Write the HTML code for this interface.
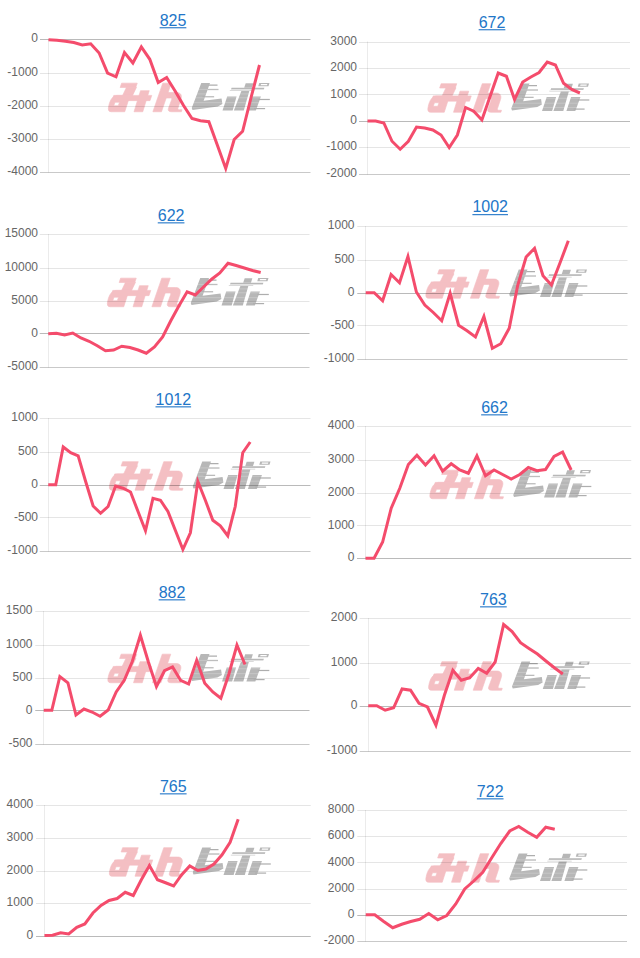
<!DOCTYPE html>
<html lang="ja">
<head>
<meta charset="utf-8">
<title>charts</title>
<style>
html,body{margin:0;padding:0;background:#fff;}
body{width:640px;height:958px;overflow:hidden;font-family:"Liberation Sans",sans-serif;}
svg{display:block;}
.t{font-family:"Liberation Sans",sans-serif;font-size:16px;fill:#2276c8;text-anchor:middle;}
.l{font-family:"Liberation Sans",sans-serif;font-size:12px;fill:#666;text-anchor:end;}
.d{fill:none;stroke:#f44c6c;stroke-width:3.0;stroke-linejoin:miter;stroke-linecap:butt;}
.g{stroke:rgba(0,0,0,0.10);stroke-width:1;}
.v{stroke:rgba(0,0,0,0.08);stroke-width:1;}
.z{stroke:rgba(0,0,0,0.27);stroke-width:1;}
.b{stroke:rgba(0,0,0,0.21);stroke-width:1;}
</style>
</head>
<body>
<svg width="640" height="958" viewBox="0 0 640 958">
<defs>
<symbol id="wm" width="164" height="30" viewBox="0 0 164 30" overflow="visible">
<g fill="#f4bfc3" stroke="#f4bfc3" stroke-width="5" stroke-linejoin="round" transform="translate(-3.5,-4.5) scale(0.125)">
<path d="M133,33 L258,33 L246,68 L121,68 Z"/>
<path d="M172,66 L252,66 L218,137 L138,137 Z"/>
<path d="M70,131 L374,131 L360,173 L56,173 Z"/>
<path fill-rule="evenodd" d="M95,131 L200,131 L158,262 L50,262 C28,262 22,245 30,215 C40,168 60,136 95,131 Z M80,186 L116,186 L106,214 L70,214 Z"/>
<path d="M284,93 L354,93 L302,262 L232,262 Z"/>
<path d="M462,33 L530,33 L452,262 L383,262 Z"/>
<path d="M500,108 L572,108 C604,108 618,128 608,160 L584,232 C581,241 585,246 596,246 L616,246 L611,262 L530,262 C508,262 502,250 508,233 L533,166 C536,157 533,152 525,152 L480,152 Z"/>
</g>
<g fill="#b7b7b7" transform="translate(84,-3) scale(0.0625)">
<path d="M140,38 L280,38 L178,322 L465,288 L478,375 L405,415 L0,472 L-12,440 Z"/>
<rect x="262" y="64" width="138" height="20" fill="#aeaeae"/>
<rect x="238" y="134" width="178" height="20" fill="#aeaeae"/>
<rect x="160" y="252" width="186" height="18" fill="#aeaeae"/>
</g>
<g fill="#b7b7b7" transform="translate(114,-3) scale(0.0813)">
<path d="M285,35 L380,35 L362,88 L267,88 Z"/>
<path d="M112,88 L515,88 L508,112 L105,112 Z"/>
<rect x="90" y="120" width="300" height="9" opacity="0.7"/>
<path fill-rule="evenodd" d="M452,30 L578,30 L566,72 L440,72 Z M474,43 L552,43 L547,59 L469,59 Z"/>
<path d="M232,128 L330,128 L262,370 L140,370 Z"/>
<path d="M58,196 L173,196 L125,370 L0,370 Z"/>
<path d="M358,196 L473,196 L410,370 L300,370 Z"/>
<rect x="440" y="226" width="142" height="15" fill="#aeaeae"/>
<rect x="390" y="338" width="134" height="15" fill="#aeaeae"/>
</g>
<g stroke="#fff" stroke-width="0.5" opacity="0.45">
<line x1="84" y1="5.9" x2="163" y2="5.9"/>
<line x1="84" y1="10.4" x2="163" y2="10.4"/>
<line x1="84" y1="14.3" x2="163" y2="14.3"/>
<line x1="84" y1="19.2" x2="163" y2="19.2"/>
<line x1="84" y1="23.6" x2="163" y2="23.6"/>
</g>
</symbol>

</defs>

<g>
<a href="#c825"><text class="t" x="173.00" y="25.50">825</text></a>
<rect x="159.65" y="27.20" width="26.70" height="1.1" fill="#2276c8"/>
<use href="#wm" x="108.50" y="83.50"/>
<line class="v" x1="48.50" y1="39.00" x2="48.50" y2="172.50"/>
<line class="z" x1="40.00" y1="39.50" x2="310.50" y2="39.50"/>
<text class="l" x="38.00" y="42.25">0</text>
<line class="g" x1="40.00" y1="73.50" x2="310.50" y2="73.50"/>
<text class="l" x="38.00" y="75.75">-1000</text>
<line class="g" x1="40.00" y1="106.50" x2="310.50" y2="106.50"/>
<text class="l" x="38.00" y="109.00">-2000</text>
<line class="g" x1="40.00" y1="139.50" x2="310.50" y2="139.50"/>
<text class="l" x="38.00" y="141.75">-3000</text>
<line class="b" x1="40.00" y1="172.50" x2="310.50" y2="172.50"/>
<text class="l" x="38.00" y="174.75">-4000</text>
<polyline class="d" points="48.50,39.80 56.94,40.30 65.38,41.20 73.82,42.50 82.26,45.00 90.70,43.80 99.14,53.00 107.58,73.00 116.02,76.80 124.46,52.50 132.90,63.00 141.34,47.00 149.78,59.30 158.22,82.50 166.66,77.50 175.10,91.00 183.54,105.50 191.98,118.50 200.42,120.75 208.86,121.75 217.30,145.00 225.74,168.50 234.18,139.50 242.62,131.25 251.06,97.50 259.50,65.00"/>
</g>
<g>
<a href="#c672"><text class="t" x="492.00" y="27.50">672</text></a>
<rect x="478.65" y="29.20" width="26.70" height="1.1" fill="#2276c8"/>
<use href="#wm" x="428.00" y="84.00"/>
<line class="v" x1="367.50" y1="41.50" x2="367.50" y2="174.50"/>
<line class="g" x1="359.00" y1="42.50" x2="630.00" y2="42.50"/>
<text class="l" x="357.00" y="44.75">3000</text>
<line class="g" x1="359.00" y1="68.50" x2="630.00" y2="68.50"/>
<text class="l" x="357.00" y="71.00">2000</text>
<line class="g" x1="359.00" y1="94.50" x2="630.00" y2="94.50"/>
<text class="l" x="357.00" y="97.50">1000</text>
<line class="z" x1="359.00" y1="121.50" x2="630.00" y2="121.50"/>
<text class="l" x="357.00" y="123.75">0</text>
<line class="g" x1="359.00" y1="147.50" x2="630.00" y2="147.50"/>
<text class="l" x="357.00" y="150.25">-1000</text>
<line class="b" x1="359.00" y1="174.50" x2="630.00" y2="174.50"/>
<text class="l" x="357.00" y="176.75">-2000</text>
<polyline class="d" points="367.50,121.00 375.67,121.00 383.84,123.00 392.01,141.25 400.18,149.25 408.35,141.25 416.52,127.00 424.69,128.00 432.86,130.00 441.03,135.00 449.20,147.50 457.37,135.00 465.54,107.50 473.71,111.25 481.88,120.00 490.05,96.50 498.22,73.00 506.39,76.25 514.56,99.50 522.73,82.00 530.90,77.00 539.07,72.50 547.24,62.00 555.41,65.00 563.58,83.25 571.75,89.50 579.92,93.00"/>
</g>
<g>
<a href="#c622"><text class="t" x="171.10" y="220.60">622</text></a>
<rect x="157.75" y="222.30" width="26.70" height="1.1" fill="#2276c8"/>
<use href="#wm" x="107.50" y="278.50"/>
<line class="v" x1="48.50" y1="234.00" x2="48.50" y2="367.50"/>
<line class="g" x1="39.75" y1="234.50" x2="309.50" y2="234.50"/>
<text class="l" x="38.00" y="237.25">15000</text>
<line class="g" x1="39.75" y1="268.50" x2="309.50" y2="268.50"/>
<text class="l" x="38.00" y="270.75">10000</text>
<line class="g" x1="39.75" y1="301.50" x2="309.50" y2="301.50"/>
<text class="l" x="38.00" y="304.00">5000</text>
<line class="z" x1="39.75" y1="333.50" x2="309.50" y2="333.50"/>
<text class="l" x="38.00" y="336.50">0</text>
<line class="b" x1="39.75" y1="367.50" x2="309.50" y2="367.50"/>
<text class="l" x="38.00" y="369.75">-5000</text>
<polyline class="d" points="48.25,333.75 56.42,333.25 64.59,335.00 72.76,333.00 80.93,338.00 89.10,341.25 97.27,345.75 105.44,350.75 113.61,350.00 121.78,346.25 129.95,347.50 138.12,350.00 146.29,353.25 154.46,347.00 162.63,337.00 170.80,320.75 178.97,305.75 187.14,291.75 195.31,295.00 203.48,287.00 211.65,279.25 219.82,273.00 227.99,263.25 236.16,265.50 244.33,268.00 252.50,270.50 260.67,272.50"/>
</g>
<g>
<a href="#c1002"><text class="t" x="490.20" y="212.40">1002</text></a>
<rect x="472.40" y="214.10" width="35.60" height="1.1" fill="#2276c8"/>
<use href="#wm" x="426.00" y="270.00"/>
<line class="v" x1="365.50" y1="226.00" x2="365.50" y2="359.50"/>
<line class="g" x1="357.25" y1="226.50" x2="627.50" y2="226.50"/>
<text class="l" x="354.50" y="229.25">1000</text>
<line class="g" x1="357.25" y1="260.50" x2="627.50" y2="260.50"/>
<text class="l" x="354.50" y="262.75">500</text>
<line class="z" x1="357.25" y1="293.50" x2="627.50" y2="293.50"/>
<text class="l" x="354.50" y="296.00">0</text>
<line class="g" x1="357.25" y1="325.50" x2="627.50" y2="325.50"/>
<text class="l" x="354.50" y="328.50">-500</text>
<line class="b" x1="357.25" y1="359.50" x2="627.50" y2="359.50"/>
<text class="l" x="354.50" y="361.75">-1000</text>
<polyline class="d" points="365.75,292.75 374.19,292.75 382.63,300.75 391.07,274.50 399.51,282.75 407.95,256.50 416.39,292.00 424.83,305.00 433.27,312.50 441.71,320.75 450.15,293.25 458.59,325.25 467.03,330.75 475.47,337.00 483.91,316.50 492.35,348.25 500.79,343.75 509.23,328.25 517.67,285.50 526.11,257.00 534.55,248.25 542.99,275.75 551.43,285.00 559.87,263.25 568.31,240.75"/>
</g>
<g>
<a href="#c1012"><text class="t" x="173.30" y="404.60">1012</text></a>
<rect x="155.50" y="406.30" width="35.60" height="1.1" fill="#2276c8"/>
<use href="#wm" x="109.50" y="462.00"/>
<line class="v" x1="48.50" y1="418.00" x2="48.50" y2="551.50"/>
<line class="g" x1="39.75" y1="418.50" x2="310.50" y2="418.50"/>
<text class="l" x="38.00" y="421.25">1000</text>
<line class="g" x1="39.75" y1="452.50" x2="310.50" y2="452.50"/>
<text class="l" x="38.00" y="454.75">500</text>
<line class="z" x1="39.75" y1="485.50" x2="310.50" y2="485.50"/>
<text class="l" x="38.00" y="488.00">0</text>
<line class="g" x1="39.75" y1="517.50" x2="310.50" y2="517.50"/>
<text class="l" x="38.00" y="520.50">-500</text>
<line class="b" x1="39.75" y1="551.50" x2="310.50" y2="551.50"/>
<text class="l" x="38.00" y="553.75">-1000</text>
<polyline class="d" points="48.25,484.75 55.73,484.75 63.21,447.00 70.69,452.75 78.17,455.75 85.65,481.50 93.13,506.00 100.61,513.25 108.09,506.50 115.57,486.00 123.05,488.25 130.53,492.00 138.01,511.50 145.49,530.75 152.97,498.25 160.45,500.25 167.93,511.50 175.41,530.50 182.89,549.50 190.37,532.75 197.85,481.50 205.33,500.25 212.81,520.25 220.29,525.75 227.77,535.75 235.25,506.50 242.73,452.75 250.21,442.00"/>
</g>
<g>
<a href="#c662"><text class="t" x="494.50" y="412.60">662</text></a>
<rect x="481.15" y="414.30" width="26.70" height="1.1" fill="#2276c8"/>
<use href="#wm" x="430.00" y="470.50"/>
<line class="v" x1="365.50" y1="426.00" x2="365.50" y2="559.20"/>
<line class="g" x1="357.00" y1="426.50" x2="631.25" y2="426.50"/>
<text class="l" x="354.50" y="429.25">4000</text>
<line class="g" x1="357.00" y1="460.50" x2="631.25" y2="460.50"/>
<text class="l" x="354.50" y="462.75">3000</text>
<line class="g" x1="357.00" y1="493.50" x2="631.25" y2="493.50"/>
<text class="l" x="354.50" y="496.00">2000</text>
<line class="g" x1="357.00" y1="525.50" x2="631.25" y2="525.50"/>
<text class="l" x="354.50" y="528.50">1000</text>
<line class="z" x1="357.00" y1="558.50" x2="631.25" y2="558.50"/>
<text class="l" x="354.50" y="561.45">0</text>
<polyline class="d" points="365.50,558.25 374.07,558.25 382.64,542.00 391.21,508.25 399.78,488.25 408.35,464.50 416.92,455.25 425.49,465.00 434.06,455.75 442.63,471.25 451.20,463.75 459.77,470.00 468.34,473.25 476.91,455.75 485.48,475.75 494.05,470.00 502.62,474.50 511.19,479.00 519.76,474.50 528.33,467.50 536.90,470.75 545.47,469.50 554.04,456.50 562.61,452.00 571.18,470.00"/>
</g>
<g>
<a href="#c882"><text class="t" x="172.00" y="597.60">882</text></a>
<rect x="158.65" y="599.30" width="26.70" height="1.1" fill="#2276c8"/>
<use href="#wm" x="108.00" y="654.50"/>
<line class="v" x1="43.50" y1="611.00" x2="43.50" y2="744.50"/>
<line class="g" x1="35.25" y1="611.50" x2="309.50" y2="611.50"/>
<text class="l" x="32.50" y="614.25">1500</text>
<line class="g" x1="35.25" y1="645.50" x2="309.50" y2="645.50"/>
<text class="l" x="32.50" y="647.75">1000</text>
<line class="g" x1="35.25" y1="678.50" x2="309.50" y2="678.50"/>
<text class="l" x="32.50" y="681.00">500</text>
<line class="z" x1="35.25" y1="710.50" x2="309.50" y2="710.50"/>
<text class="l" x="32.50" y="713.50">0</text>
<line class="b" x1="35.25" y1="744.50" x2="309.50" y2="744.50"/>
<text class="l" x="32.50" y="746.75">-500</text>
<polyline class="d" points="43.75,710.25 51.80,710.25 59.85,676.50 67.90,682.75 75.95,715.00 84.00,709.00 92.05,712.00 100.10,716.25 108.15,710.00 116.20,692.00 124.25,680.25 132.30,661.50 140.35,635.25 148.40,662.00 156.45,686.50 164.50,670.75 172.55,667.00 180.60,680.25 188.65,684.00 196.70,660.25 204.75,683.25 212.80,692.00 220.85,698.25 228.90,674.00 236.95,645.00 245.00,664.50"/>
</g>
<g>
<a href="#c763"><text class="t" x="493.40" y="604.60">763</text></a>
<rect x="480.05" y="606.30" width="26.70" height="1.1" fill="#2276c8"/>
<use href="#wm" x="428.75" y="662.00"/>
<line class="v" x1="368.50" y1="618.00" x2="368.50" y2="751.50"/>
<line class="g" x1="359.75" y1="618.50" x2="630.75" y2="618.50"/>
<text class="l" x="357.50" y="621.25">2000</text>
<line class="g" x1="359.75" y1="663.50" x2="630.75" y2="663.50"/>
<text class="l" x="357.50" y="666.00">1000</text>
<line class="z" x1="359.75" y1="706.50" x2="630.75" y2="706.50"/>
<text class="l" x="357.50" y="709.25">0</text>
<line class="b" x1="359.75" y1="751.50" x2="630.75" y2="751.50"/>
<text class="l" x="357.50" y="753.75">-1000</text>
<polyline class="d" points="368.25,705.75 376.71,705.75 385.17,710.25 393.63,707.75 402.09,689.00 410.55,690.25 419.01,703.25 427.47,707.00 435.93,725.25 444.39,695.25 452.85,670.25 461.31,680.25 469.77,677.75 478.23,668.50 486.69,673.25 495.15,662.00 503.61,624.50 512.07,631.50 520.53,642.75 528.99,648.50 537.45,654.00 545.91,661.00 554.37,667.75 562.83,674.00"/>
</g>
<g>
<a href="#c765"><text class="t" x="173.25" y="791.60">765</text></a>
<rect x="159.90" y="793.30" width="26.70" height="1.1" fill="#2276c8"/>
<use href="#wm" x="109.50" y="848.00"/>
<line class="v" x1="44.50" y1="805.00" x2="44.50" y2="936.50"/>
<line class="g" x1="36.00" y1="805.50" x2="310.75" y2="805.50"/>
<text class="l" x="33.25" y="808.25">4000</text>
<line class="g" x1="36.00" y1="838.50" x2="310.75" y2="838.50"/>
<text class="l" x="33.25" y="840.75">3000</text>
<line class="g" x1="36.00" y1="871.50" x2="310.75" y2="871.50"/>
<text class="l" x="33.25" y="873.75">2000</text>
<line class="g" x1="36.00" y1="903.50" x2="310.75" y2="903.50"/>
<text class="l" x="33.25" y="906.25">1000</text>
<line class="z" x1="36.00" y1="936.50" x2="310.75" y2="936.50"/>
<text class="l" x="33.25" y="938.75">0</text>
<polyline class="d" points="44.50,935.50 52.57,935.25 60.64,932.75 68.71,934.00 76.78,927.25 84.85,924.00 92.92,913.00 100.99,905.50 109.06,900.50 117.13,898.50 125.20,892.25 133.27,895.50 141.34,879.75 149.41,865.50 157.48,879.75 165.55,882.75 173.62,886.00 181.69,874.75 189.76,866.00 197.83,870.50 205.90,869.00 213.97,864.00 222.04,854.75 230.11,842.25 238.18,819.25"/>
</g>
<g>
<a href="#c722"><text class="t" x="490.20" y="796.60">722</text></a>
<rect x="476.85" y="798.30" width="26.70" height="1.1" fill="#2276c8"/>
<use href="#wm" x="426.00" y="854.00"/>
<line class="v" x1="365.50" y1="810.00" x2="365.50" y2="941.50"/>
<line class="g" x1="357.25" y1="810.50" x2="627.00" y2="810.50"/>
<text class="l" x="354.50" y="813.25">8000</text>
<line class="g" x1="357.25" y1="836.50" x2="627.00" y2="836.50"/>
<text class="l" x="354.50" y="838.75">6000</text>
<line class="g" x1="357.25" y1="862.50" x2="627.00" y2="862.50"/>
<text class="l" x="354.50" y="865.50">4000</text>
<line class="g" x1="357.25" y1="889.50" x2="627.00" y2="889.50"/>
<text class="l" x="354.50" y="892.00">2000</text>
<line class="z" x1="357.25" y1="915.50" x2="627.00" y2="915.50"/>
<text class="l" x="354.50" y="918.00">0</text>
<line class="b" x1="357.25" y1="941.50" x2="627.00" y2="941.50"/>
<text class="l" x="354.50" y="943.75">-2000</text>
<polyline class="d" points="365.75,914.75 374.75,914.75 383.75,921.50 392.75,927.75 401.75,924.25 410.75,921.50 419.75,919.25 428.75,913.50 437.75,919.75 446.75,915.50 455.75,904.00 464.75,889.00 473.75,881.00 482.75,872.25 491.75,857.75 500.75,843.50 509.75,831.00 518.75,826.50 527.75,832.25 536.75,837.25 545.75,827.25 554.75,829.25"/>
</g>
</svg>
</body>
</html>
